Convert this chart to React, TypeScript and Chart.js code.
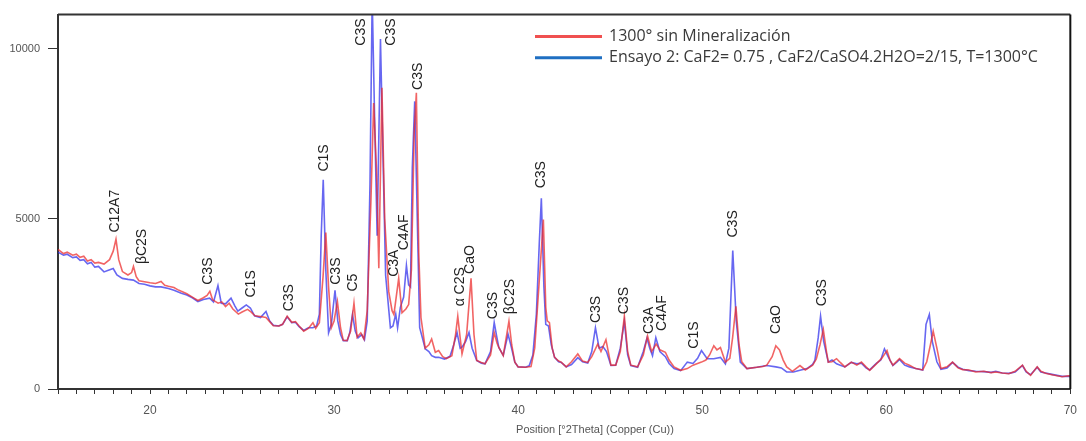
import React, { useEffect, useRef } from "react";
import { Chart, registerables } from "chart.js";
Chart.register(...registerables);

const seriesNames = [
  "1300° sin Mineralización",
  "Ensayo 2: CaF2= 0.75 , CaF2/CaSO4.2H2O=2/15, T=1300°C",
];

const redTheta = [
  15.0, 15.3, 15.5, 15.8, 16.0, 16.2, 16.4, 16.6, 16.8, 17.0, 17.2, 17.5, 17.8, 18.0, 18.15, 18.3, 18.5, 18.8, 19.0, 19.1,
  19.25, 19.4, 19.7, 20.0, 20.3, 20.6, 20.8, 21.0, 21.3, 21.5, 21.7, 22.0, 22.3, 22.6, 22.9, 23.1, 23.25, 23.4, 23.7, 23.9,
  24.1, 24.3, 24.5, 24.8, 25.0, 25.3, 25.5, 25.7, 26.0, 26.3, 26.5, 26.7, 27.0, 27.2, 27.45, 27.7, 27.9, 28.1, 28.35, 28.6,
  28.85, 29.0, 29.2, 29.4, 29.55, 29.7, 29.85, 30.0, 30.18, 30.35, 30.5, 30.7, 30.9, 31.08, 31.25, 31.45, 31.62, 31.8, 32.0, 32.15,
  32.3, 32.43, 32.6, 32.75, 32.97, 33.15, 33.25, 33.51, 33.69, 33.9, 34.05, 34.2, 34.35, 34.47, 34.6, 34.72, 34.95, 35.15, 35.3, 35.5,
  35.68, 35.9, 36.1, 36.4, 36.6, 36.72, 36.85, 36.95, 37.2, 37.44, 37.6, 37.75, 38.0, 38.2, 38.5, 38.7, 38.85, 38.95, 39.19, 39.5,
  39.65, 39.82, 40.0, 40.4, 40.7, 40.9, 41.1, 41.37, 41.5, 41.58, 41.7, 41.85, 41.98, 42.2, 42.34, 42.61, 42.9, 43.24, 43.5, 43.78,
  44.0, 44.32, 44.5, 44.77, 45.04, 45.3, 45.55, 45.77, 45.95, 46.12, 46.49, 46.8, 47.03, 47.25, 47.5, 47.7, 48.0, 48.2, 48.47, 48.83,
  49.19, 49.5, 49.96, 50.2, 50.4, 50.63, 50.8, 50.99, 51.26, 51.5, 51.65, 51.83, 52.0, 52.15, 52.43, 52.97, 53.3, 53.51, 53.8, 54.0,
  54.2, 54.4, 54.59, 54.9, 55.31, 55.6, 56.0, 56.2, 56.4, 56.58, 56.75, 56.85, 57.05, 57.3, 57.5, 57.75, 58.1, 58.4, 58.65, 58.9,
  59.1, 59.46, 59.75, 60.04, 60.2, 60.36, 60.72, 61.0, 61.26, 61.6, 61.98, 62.2, 62.4, 62.55, 62.75, 62.97, 63.3, 63.6, 63.9, 64.15,
  64.5, 64.86, 65.3, 65.7, 65.95, 66.3, 66.66, 67.0, 67.4, 67.6, 67.84, 68.2, 68.4, 68.65, 69.0, 69.55, 69.9, 70.0,
];
const redCounts = [
  4100, 3980, 4020, 3930, 3960, 3870, 3900, 3760, 3800, 3700, 3720, 3670, 3800, 4050, 4400, 3800, 3450, 3350, 3420, 3600,
  3300, 3180, 3150, 3120, 3100, 3160, 3050, 3020, 2980, 2920, 2870, 2800, 2700, 2600, 2680, 2750, 2870, 2620, 2520, 2560,
  2420, 2520, 2350, 2200, 2260, 2340, 2260, 2150, 2130, 2100, 1980, 1860, 1850, 1900, 2140, 1960, 1980, 1850, 1700, 1780,
  1950, 1780, 1950, 3300, 4600, 3000, 1800, 2000, 2570, 1800, 1430, 1420, 1700, 2520, 1520, 1650, 1470, 2300, 5500, 8400,
  6500, 3550, 8850, 5000, 2860, 2300, 2190, 3250, 2240, 2350, 2480, 3500, 7500, 8700, 4000, 2100, 1200, 1300, 1470, 1080,
  1130, 950, 890, 980, 1600, 2140, 1500, 1030, 1600, 3250, 1600, 840, 780, 740, 1000, 1660, 1350, 1220, 980, 1990,
  1300, 790, 650, 640, 660, 1200, 2800, 4980, 2400, 2000, 1950, 1200, 930, 820, 790, 650, 800, 1030, 820, 780,
  950, 1320, 1100, 1450, 700, 700, 1100, 2140, 1100, 700, 650, 1000, 1560, 1100, 1320, 1150, 1080, 850, 650, 550,
  600, 700, 790, 850, 1000, 1270, 1150, 1220, 790, 900, 1500, 2430, 1300, 800, 600, 640, 660, 700, 950, 1270,
  1150, 850, 650, 520, 690, 560, 700, 880, 1300, 1750, 1100, 790, 800, 890, 780, 650, 790, 700, 790, 650,
  550, 740, 900, 1130, 850, 700, 890, 760, 700, 600, 560, 800, 1300, 1700, 1200, 600, 650, 790, 620, 570,
  560, 500, 520, 480, 500, 470, 450, 520, 700, 520, 400, 650, 520, 460, 420, 360, 390, 380,
];

const blueTheta = [
  15.0, 15.3, 15.5, 15.8, 16.0, 16.2, 16.4, 16.6, 16.8, 17.0, 17.2, 17.5, 17.7, 18.0, 18.2, 18.5, 18.8, 19.1, 19.4, 19.7,
  20.0, 20.3, 20.6, 21.0, 21.3, 21.7, 22.0, 22.3, 22.6, 22.9, 23.24, 23.45, 23.69, 23.87, 24.1, 24.4, 24.6, 24.77, 25.0, 25.23,
  25.45, 25.68, 26.0, 26.3, 26.5, 26.7, 27.0, 27.2, 27.45, 27.7, 27.9, 28.1, 28.35, 28.6, 28.85, 29.05, 29.2, 29.3, 29.41, 29.55,
  29.7, 29.85, 30.05, 30.2, 30.35, 30.5, 30.72, 30.85, 31.0, 31.15, 31.3, 31.5, 31.65, 31.8, 31.95, 32.07, 32.2, 32.34, 32.52, 32.65,
  32.8, 33.06, 33.2, 33.35, 33.45, 33.6, 33.78, 33.93, 34.05, 34.15, 34.25, 34.38, 34.5, 34.65, 34.8, 34.95, 35.15, 35.3, 35.5, 35.68,
  36.0, 36.3, 36.5, 36.68, 36.85, 36.95, 37.15, 37.33, 37.5, 37.75, 38.0, 38.2, 38.5, 38.7, 38.85, 38.95, 39.19, 39.45, 39.6, 39.82,
  40.0, 40.4, 40.6, 40.8, 40.99, 41.15, 41.26, 41.4, 41.5, 41.65, 41.8, 41.98, 42.2, 42.34, 42.61, 42.9, 43.24, 43.5, 43.78, 44.0,
  44.2, 44.4, 44.6, 44.8, 45.04, 45.3, 45.55, 45.77, 45.95, 46.12, 46.49, 46.8, 47.0, 47.15, 47.3, 47.48, 47.7, 48.0, 48.2, 48.47,
  48.83, 49.19, 49.5, 49.75, 49.96, 50.27, 50.63, 50.99, 51.26, 51.45, 51.66, 51.85, 52.07, 52.43, 52.97, 53.51, 54.0, 54.3, 54.59, 54.96,
  55.31, 55.7, 56.0, 56.12, 56.3, 56.43, 56.6, 56.85, 57.05, 57.3, 57.5, 57.75, 58.1, 58.4, 58.65, 58.9, 59.1, 59.46, 59.7, 59.9,
  60.1, 60.36, 60.6, 60.72, 61.0, 61.26, 61.6, 61.98, 62.16, 62.34, 62.5, 62.75, 62.97, 63.3, 63.6, 63.9, 64.15, 64.5, 64.86, 65.3,
  65.7, 65.95, 66.3, 66.66, 67.0, 67.4, 67.6, 67.84, 68.2, 68.4, 68.65, 69.0, 69.55, 69.9, 70.0,
];
const blueCounts = [
  4020, 3930, 3960, 3860, 3880, 3780, 3800, 3680, 3720, 3580, 3600, 3440, 3480, 3540, 3350, 3250, 3220, 3200, 3100, 3080,
  3030, 3000, 3000, 2950, 2900, 2810, 2760, 2680, 2570, 2630, 2670, 2560, 3040, 2520, 2500, 2670, 2450, 2290, 2380, 2470,
  2380, 2150, 2100, 2280, 2000, 1870, 1850, 1900, 2120, 1950, 1960, 1830, 1720, 1800, 1800, 1850, 2200, 4500, 6150, 3500,
  1650, 1900, 2900, 2000, 1600, 1420, 1420, 1650, 2190, 1700, 1500, 1600, 1450, 2000, 6000, 11500, 8000, 4500, 10280, 7000,
  3340, 1800, 1850, 2200, 1800, 2400, 2700, 3630, 3060, 3000, 6500, 8450, 5500, 1800, 1500, 1180, 1100, 980, 930, 930,
  880, 960, 1300, 1660, 1200, 1230, 1400, 1660, 1200, 840, 760, 740, 1100, 1950, 1500, 1220, 990, 1610, 1300, 790,
  650, 640, 680, 1000, 2200, 4300, 5600, 3000, 1900, 1850, 1300, 930, 800, 780, 650, 720, 920, 800, 760, 1100,
  1800, 1200, 1250, 1100, 690, 700, 1200, 1990, 1000, 690, 640, 1100, 1500, 1200, 980, 1510, 1100, 950, 750, 600,
  540, 790, 750, 900, 1130, 890, 890, 930, 740, 1200, 4070, 2000, 790, 600, 640, 690, 650, 620, 500, 500,
  550, 600, 720, 840, 1500, 2140, 1400, 790, 850, 740, 700, 650, 780, 740, 760, 620, 560, 750, 850, 1180,
  950, 690, 800, 870, 700, 650, 600, 560, 1900, 2190, 1400, 800, 580, 620, 780, 640, 580, 540, 520, 510,
  490, 520, 470, 460, 500, 690, 500, 420, 640, 500, 470, 430, 370, 370, 370,
];

const peakLabels = [
  "C12A7", "βC2S", "C3S", "C1S", "C3S", "C1S", "C3S", "C5", "C3S", "C3S", "C3S", "C3A", "C4AF",
  "α C2S", "CaO", "C3S", "βC2S", "C3S", "C3S", "C3S", "C3A", "C4AF", "C1S", "C3S", "CaO", "C3S",
];
const peakTheta = [
  18.11, 19.57, 23.14, 25.51, 27.57, 29.46, 30.11, 31.03, 31.46, 33.08, 34.59, 33.24, 33.78,
  36.86, 37.41, 38.65, 39.57, 41.24, 44.22, 45.78, 47.14, 47.84, 49.57, 51.68, 54.0, 56.54,
];
const peakCounts = [
  4595, 3670, 3063, 2688, 2283, 6387, 3063, 2861, 10086, 10086, 8786, 3295, 4075,
  2428, 3381, 2052, 2196, 5896, 1936, 2196, 1618, 1705, 1185, 4451, 1618, 2428,
];

const xMin = 15;
const xMax = 70;
const yMin = 0;
const yMax = 11000;
const yTickValues = [0, 5000, 10000];
const xAxisTitle = "Position [°2Theta] (Copper (Cu))";

const lineColors = ["rgba(236,40,40,0.72)", "rgba(45,45,235,0.72)"];
const legendColors = ["#f05050", "#1f6fc2"];

export default function App() {
  const ref = useRef<HTMLCanvasElement | null>(null);
  useEffect(() => {
    document.body.style.margin = "0";
    const canvas = ref.current;
    if (!canvas) return;

    const overlay = {
      id: "overlay",
      afterDraw(chart: any) {
        const ctx = chart.ctx;
        const a = chart.chartArea;
        const xs = chart.scales.x;
        const ys = chart.scales.y;
        ctx.save();
        ctx.strokeStyle = "#333";
        ctx.lineWidth = 2;
        ctx.beginPath();
        ctx.moveTo(a.left, a.top);
        ctx.lineTo(a.right, a.top);
        ctx.stroke();
        ctx.strokeStyle = "#111";
        ctx.beginPath();
        ctx.moveTo(a.right, a.top);
        ctx.lineTo(a.right, a.bottom);
        ctx.stroke();
        ctx.fillStyle = "#222";
        ctx.font = '14px "Liberation Sans", Arial, sans-serif';
        ctx.textAlign = "left";
        ctx.textBaseline = "middle";
        peakLabels.forEach((t, i) => {
          const px = xs.getPixelForValue(peakTheta[i]);
          const py = ys.getPixelForValue(peakCounts[i]);
          ctx.save();
          ctx.translate(px, py);
          ctx.rotate(-Math.PI / 2);
          ctx.fillText(t, 0, 0);
          ctx.restore();
        });
        chart.data.datasets.forEach((ds: any, i: number) => {
          const y = 36.5 + i * 21.3;
          ctx.strokeStyle = legendColors[i];
          ctx.lineWidth = 3;
          ctx.beginPath();
          ctx.moveTo(535, y);
          ctx.lineTo(602, y);
          ctx.stroke();
          ctx.fillStyle = "#3a3a3a";
          ctx.font = '16px "Open Sans", sans-serif';
          ctx.textAlign = "left";
          ctx.textBaseline = "middle";
          ctx.fillText(ds.label, 609, y);
        });
        ctx.fillStyle = "#555";
        ctx.font = '11px "Liberation Sans", Arial, sans-serif';
        ctx.textAlign = "center";
        ctx.textBaseline = "middle";
        ctx.fillText(xAxisTitle, 595, 430);
        ctx.restore();
      },
    };

    const chart = new Chart(canvas, {
      type: "line",
      data: {
        datasets: [
          {
            label: seriesNames[0],
            data: redTheta.map((x, i) => ({ x, y: redCounts[i] })),
            borderColor: lineColors[0],
            borderWidth: 1.6,
            pointRadius: 0,
            tension: 0,
            fill: false,
          },
          {
            label: seriesNames[1],
            data: blueTheta.map((x, i) => ({ x, y: blueCounts[i] })),
            borderColor: lineColors[1],
            borderWidth: 1.6,
            pointRadius: 0,
            tension: 0,
            fill: false,
          },
        ],
      },
      options: {
        animation: false,
        responsive: false,
        events: [],
        layout: { padding: { left: 0, right: 11, top: 7, bottom: 0 } },
        plugins: { legend: { display: false }, tooltip: { enabled: false }, title: { display: false } },
        scales: {
          x: {
            type: "linear",
            min: xMin,
            max: xMax,
            afterFit: (s: any) => {
              s.height = 52;
            },
            border: { display: true, color: "#333", width: 2 },
            grid: { drawOnChartArea: false, drawTicks: true, tickLength: 5, color: "#333" },
            ticks: {
              stepSize: 1,
              autoSkip: false,
              maxRotation: 0,
              padding: 9,
              color: "#555",
              font: { family: '"Liberation Sans", Arial, sans-serif', size: 12 },
              callback: (v: any) => (Number(v) % 10 === 0 ? String(v) : ""),
            },
          },
          y: {
            type: "linear",
            min: yMin,
            max: yMax,
            afterFit: (s: any) => {
              s.width = 58;
            },
            afterBuildTicks: (s: any) => {
              s.ticks = yTickValues.map((v) => ({ value: v }));
            },
            border: { display: true, color: "#333", width: 2 },
            grid: { drawOnChartArea: false, drawTicks: true, tickLength: 10, color: "#333" },
            ticks: {
              padding: 8,
              color: "#555",
              font: { family: '"Liberation Sans", Arial, sans-serif', size: 11 },
              callback: (v: any) => String(v),
            },
          },
        },
      },
      plugins: [overlay],
    });
    return () => chart.destroy();
  }, []);

  return (
    <div style={{ width: 1086, height: 441, background: "#fff" }}>
      <canvas ref={ref} width={1086} height={441} style={{ display: "block" }} />
    </div>
  );
}
